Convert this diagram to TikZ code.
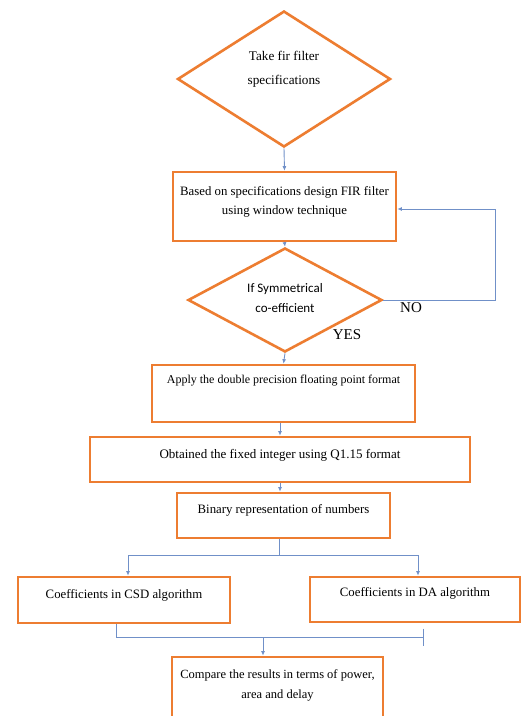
\documentclass[tikz,border=0pt]{standalone}
\usepackage{fontspec}
\setmainfont{Liberation Serif}
\newfontfamily\calibri{Carlito}
\usetikzlibrary{shapes.geometric,arrows.meta}
\definecolor{boxorange}{HTML}{ED7D31}
\definecolor{linkblue}{HTML}{7090C8}
\tikzset{
  boxnode/.style={draw=boxorange, line width=2.6pt, fill=white, rectangle, inner sep=0pt},
  dianode/.style={draw=boxorange, line width=2.6pt, fill=white, diamond, inner sep=0pt},
  txt/.style={font=\fontsize{12.8}{19}\selectfont, align=center, inner sep=0pt},
  conn/.style={draw=linkblue, line width=0.9pt},
  arr/.style={conn, -{Latex[length=4.5pt,width=4pt]}},
  yesno/.style={font=\fontsize{15}{17}\selectfont, inner sep=0pt}
}
\begin{document}
\begin{tikzpicture}[x=1pt,y=-1pt]
\useasboundingbox (0,0) rectangle (530,716);
% shapes
\node[dianode, minimum width=213pt, minimum height=136pt] (d1) at (284,79) {};
\node[txt, font=\fontsize{13.2}{24}\selectfont] (d1t) at (284,69) {Take fir filter\\specifications};
\node[boxnode, minimum width=223pt, minimum height=69pt] (b2) at (284.5,206.5) {};
\node[txt] (b2t) at (284.5,202) {Based on specifications design FIR filter\\using window technique};
\node[dianode, minimum width=194pt, minimum height=104pt] (d2) at (285,300) {};
\node[txt, font=\calibri\fontsize{13}{20}\selectfont] (d2t) at (285,298) {If Symmetrical\\co-efficient};
\node[boxnode, minimum width=263pt, minimum height=57pt] (b3) at (283.5,393.5) {};
\node[txt, font=\fontsize{12}{19}\selectfont] (b3t) at (283.5,381) {Apply the double precision floating point format};
\node[boxnode, minimum width=380pt, minimum height=45pt] (b4) at (280,459.5) {};
\node[txt, font=\fontsize{13}{19}\selectfont] (b4t) at (280,455) {Obtained the fixed integer using Q1.15 format};
\node[boxnode, minimum width=213pt, minimum height=45pt] (b5) at (283.5,515.5) {};
\node[txt] (b5t) at (283.5,510) {Binary representation of numbers};
\node[boxnode, minimum width=212pt, minimum height=46pt] (b6) at (124,600) {};
\node[txt] (b6t) at (124,595) {Coefficients in CSD algorithm};
\node[boxnode, minimum width=210pt, minimum height=45pt] (b7) at (415,599.5) {};
\node[txt] (b7t) at (415,593) {Coefficients in DA algorithm};
\node[boxnode, minimum width=211pt, minimum height=60pt] (b8) at (277.5,687) {};
\node[txt, font=\fontsize{12.5}{20}\selectfont] (b8t) at (277.5,685) {Compare the results in terms of power,\\area and delay};
% labels
\node[yesno] (no) at (411,308) {NO};
\node[yesno] (yes) at (347,335) {YES};
% connectors
\draw[arr] (d1.south) -- (b2.north);
\draw[arr] (b2.south) -- (d2.north);
\draw[arr] (d2.south) -- (b3.north);
\draw[arr] (b3.south -| b4.north) -- (b4.north);
\draw[arr] (b4.south) -- (b4.south |- b5.north);
% feedback
\coordinate (fb1) at (495,300);
\coordinate (fb2) at (495,209);
\draw[arr] (d2.east) -- (fb1) -- (fb2) -- (b2.east |- fb2);
% branch
\coordinate (br) at (279,555);
\coordinate (bl) at (128,555);
\coordinate (brr) at (418,555);
\draw[conn] (b5.south -| br) -- (br);
\draw[conn] (bl) -- (brr);
\draw[arr] (bl) -- (bl |- b6.north);
\draw[arr] (brr) -- (brr |- b7.north);
% merge
\coordinate (ml) at (116,637);
\coordinate (mr) at (424,637);
\coordinate (mg) at (263,637);
\draw[conn, -{Bar[width=17pt]}] (b6.south -| ml) -- (ml) -- (mr);
\draw[arr] (mg) -- (mg |- b8.north);
\end{tikzpicture}
\end{document}
